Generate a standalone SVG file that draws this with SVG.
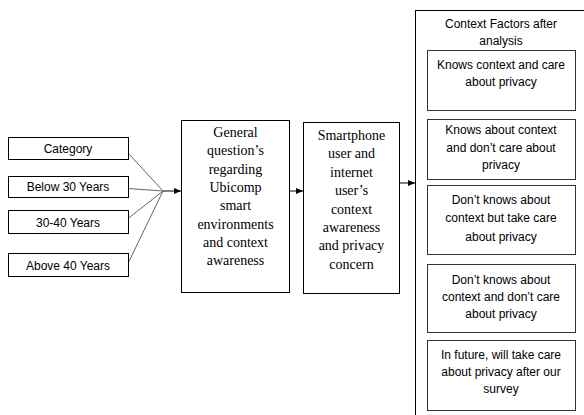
<svg xmlns="http://www.w3.org/2000/svg" width="584" height="415" viewBox="0 0 584 415">
<defs>
<style>
.box{fill:#fff;stroke:#000;stroke-width:1}
.ibox{fill:#fff;stroke:#333;stroke-width:1}
.s{font-family:"Liberation Sans",Arial,sans-serif;font-size:12px;fill:#000;text-anchor:middle}
.t{font-family:"Liberation Serif","Times New Roman",serif;font-size:14px;fill:#000;text-anchor:middle}
.ln{stroke:#666;stroke-width:1;fill:none}
.ar{stroke:#000;stroke-width:1;fill:none;marker-end:url(#ah)}
</style>
<marker id="ah" markerWidth="7" markerHeight="6" refX="7" refY="3" orient="auto" markerUnits="userSpaceOnUse">
<path d="M0,0 L7,3 L0,6 Z" fill="#000"/>
</marker>
</defs>
<rect width="584" height="415" fill="#fff"/>
<g id="connectors">
<line class="ln" x1="128" y1="153" x2="163" y2="191"/>
<line class="ln" x1="128" y1="188.5" x2="163" y2="191"/>
<line class="ln" x1="128" y1="218.5" x2="163" y2="191"/>
<line class="ln" x1="128" y1="263.5" x2="163" y2="191"/>
<line class="ar" x1="163" y1="191" x2="181" y2="191"/>
<line class="ar" x1="289" y1="191" x2="303" y2="191"/>
<line class="ar" x1="399" y1="183" x2="415" y2="183"/>
</g>
<g id="category">
<rect class="box" x="8.5" y="137.5" width="120" height="22"/>
<text class="s" x="68" y="153">Category</text>
</g>
<g id="below30">
<rect class="box" x="8.5" y="176.5" width="120" height="21"/>
<text class="s" x="68" y="191">Below 30 Years</text>
</g>
<g id="age30-40">
<rect class="box" x="8.5" y="210.5" width="120" height="23"/>
<text class="s" x="68" y="227">30-40 Years</text>
</g>
<g id="above40">
<rect class="box" x="8.5" y="253.5" width="120" height="23"/>
<text class="s" x="68" y="270">Above 40 Years</text>
</g>
<g id="general">
<rect class="box" x="181.5" y="120.5" width="108" height="172"/>
<text class="t" x="235.5" y="137">General</text>
<text class="t" x="235.5" y="155.3">question’s</text>
<text class="t" x="235.5" y="173.6">regarding</text>
<text class="t" x="235.5" y="191.9">Ubicomp</text>
<text class="t" x="235.5" y="210.2">smart</text>
<text class="t" x="235.5" y="228.5">environments</text>
<text class="t" x="235.5" y="246.8">and context</text>
<text class="t" x="235.5" y="265.1">awareness</text>
</g>
<g id="smartphone">
<rect class="box" x="303.5" y="122.5" width="96" height="171"/>
<text class="t" x="351.5" y="140">Smartphone</text>
<text class="t" x="351.5" y="158.4">user  and</text>
<text class="t" x="351.5" y="176.8">internet</text>
<text class="t" x="351.5" y="195.2">user’s</text>
<text class="t" x="351.5" y="213.6">context</text>
<text class="t" x="351.5" y="232">awareness</text>
<text class="t" x="351.5" y="250.4">and privacy</text>
<text class="t" x="351.5" y="268.8">concern</text>
</g>
<g id="context-factors">
<rect class="box" x="415.5" y="10.5" width="200" height="420"/>
<text class="s" x="501" y="28">Context Factors after</text>
<text class="s" x="501" y="45">analysis</text>
</g>
<g id="factor1">
<rect class="ibox" x="427.5" y="50.5" width="148" height="60"/>
<text class="s" x="501" y="69">Knows context and care</text>
<text class="s" x="501" y="86">about privacy</text>
</g>
<g id="factor2">
<rect class="ibox" x="427.5" y="119.5" width="148" height="60"/>
<text class="s" x="501" y="134">Knows about context</text>
<text class="s" x="501" y="151.5">and don’t care about</text>
<text class="s" x="501" y="169">privacy</text>
</g>
<g id="factor3">
<rect class="ibox" x="427.5" y="185.5" width="148" height="69"/>
<text class="s" x="501" y="204">Don’t knows about</text>
<text class="s" x="501" y="222">context but take care</text>
<text class="s" x="501" y="240.5">about privacy</text>
</g>
<g id="factor4">
<rect class="ibox" x="427.5" y="264.5" width="148" height="68"/>
<text class="s" x="501" y="284">Don’t knows about</text>
<text class="s" x="501" y="301">context and don’t care</text>
<text class="s" x="501" y="318">about privacy</text>
</g>
<g id="factor5">
<rect class="ibox" x="427.5" y="340.5" width="148" height="70"/>
<text class="s" x="501" y="359">In future, will take care</text>
<text class="s" x="501" y="376">about privacy after our</text>
<text class="s" x="501" y="393">survey</text>
</g>
</svg>
